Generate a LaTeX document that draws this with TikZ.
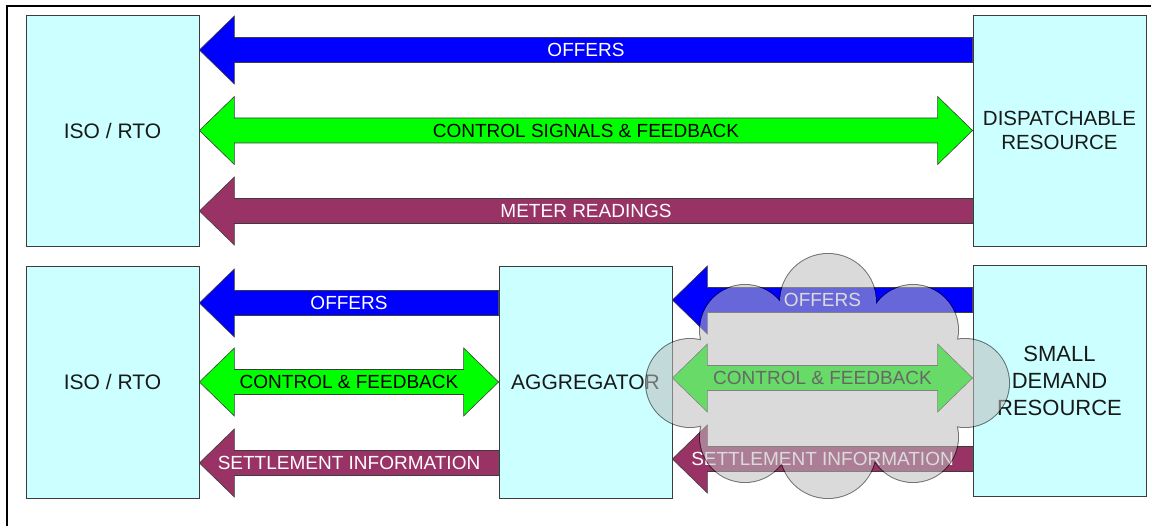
\documentclass[tikz,border=0pt]{standalone}
\usepackage{fontspec}
\setmainfont{Liberation Sans}
\usetikzlibrary{calc}
\definecolor{boxfill}{RGB}{204,255,255}
\definecolor{offblue}{RGB}{0,0,255}
\definecolor{ctlgreen}{RGB}{0,255,0}
\definecolor{setmaroon}{RGB}{153,51,102}
\definecolor{edgegray}{RGB}{60,60,60}
\definecolor{cloudfill}{RGB}{189,189,189}
\definecolor{txtdark}{RGB}{25,25,25}

% single-headed arrow pointing left: style, tip node, tail node, dy, label
\newcommand\arrL[5]{%
 \path[#1] let \p1=($(#2.east)+(0,#4)$), \p2=(#3.west) in
  (\x1,\y1) -- (\x1+35pt,\y1+34pt) -- (\x1+35pt,\y1+12.5pt) -- (\x2,\y1+12.5pt)
  -- (\x2,\y1-12.5pt) -- (\x1+35pt,\y1-12.5pt) -- (\x1+35pt,\y1-34pt) -- cycle
  ({(\x1+\x2)/2},\y1) node[lbl] {#5};}
% double-headed arrow: style, left node, right node, dy, label
\newcommand\arrD[5]{%
 \path[#1] let \p1=($(#2.east)+(0,#4)$), \p2=(#3.west) in
  (\x1,\y1) -- (\x1+35pt,\y1+34pt) -- (\x1+35pt,\y1+12.5pt) -- (\x2-35pt,\y1+12.5pt)
  -- (\x2-35pt,\y1+34pt) -- (\x2,\y1) -- (\x2-35pt,\y1-34pt) -- (\x2-35pt,\y1-12.5pt)
  -- (\x1+35pt,\y1-12.5pt) -- (\x1+35pt,\y1-34pt) -- cycle
  ({(\x1+\x2)/2},\y1) node[lbl] {#5};}

\tikzset{
 box/.style={draw=edgegray, line width=0.8pt, fill=boxfill, minimum width=173pt,
   minimum height=231pt, inner sep=0pt, text=txtdark, align=center,
   font=\fontsize{21}{24}\selectfont},
 lbl/.style={inner sep=0pt, font=\fontsize{19}{22}\selectfont},
 ablue/.style={draw=edgegray, line width=0.6pt, fill=offblue, text=white},
 agreen/.style={draw=edgegray, line width=0.6pt, fill=ctlgreen, text=black},
 amaroon/.style={draw=edgegray, line width=0.6pt, fill=setmaroon, text=white},
 puffs/.style={insert path={
  (828,223) circle[radius=48pt] (745,195) circle[radius=45pt] (913,195) circle[radius=45pt]
  (690,142) circle[radius=44pt] (965,142) circle[radius=44pt]
  (745,88) circle[radius=45pt] (828,75) circle[radius=48pt] (913,88) circle[radius=45pt]}},
}

\begin{document}
\begin{tikzpicture}[x=1pt,y=1pt]
\useasboundingbox (0,0) rectangle (1151,525);
\clip (0,0) rectangle (1151,525);
\fill[white] (0,0) rectangle (1151,525);

% outer frame (right and bottom sides lie outside the picture)
\draw[line width=2.4pt, black] (7,-20) -- (7,519) -- (1180,519);

% boxes
\node[box] (iso1) at (112.5,394.5) {ISO / RTO};
\node[box, font=\fontsize{20.5}{24}\selectfont] (disp) at (1059.5,394.5) {DISPATCHABLE\\RESOURCE};
\node[box, minimum height=232pt] (iso2) at (112.5,143) {ISO / RTO};
\node[box, minimum height=232pt] (agg) at (585.5,143) {AGGREGATOR};
\node[box, font=\fontsize{22}{27}\selectfont] (sdr) at (1059.5,144.5) {SMALL\\DEMAND\\RESOURCE};

% top row arrows
\arrL{ablue}{iso1}{disp}{80.5}{OFFERS}
\arrD{agreen}{iso1}{disp}{0}{CONTROL SIGNALS \& FEEDBACK}
\arrL{amaroon}{iso1}{disp}{-80.5}{METER READINGS}

% bottom-left arrows
\arrL{ablue}{iso2}{agg}{79}{OFFERS}
\arrD{agreen}{iso2}{agg}{0}{CONTROL \& FEEDBACK}
\arrL{amaroon}{iso2}{agg}{-81}{SETTLEMENT INFORMATION}

% bottom-right arrows
\arrL{ablue}{agg}{sdr}{82}{OFFERS}
\arrD{agreen}{agg}{sdr}{4}{CONTROL \& FEEDBACK}
\arrL{amaroon}{agg}{sdr}{-77}{SETTLEMENT INFORMATION}

% translucent cloud
\begin{scope}[transparency group, opacity=0.55]
 \draw[line width=2pt, black] [puffs];
 \fill[cloudfill] [puffs];
 \fill[cloudfill] (705,100) rectangle (953,185);
 \fill[cloudfill] (829,142) ellipse[x radius=130pt, y radius=65pt];
\end{scope}
\end{tikzpicture}
\end{document}
